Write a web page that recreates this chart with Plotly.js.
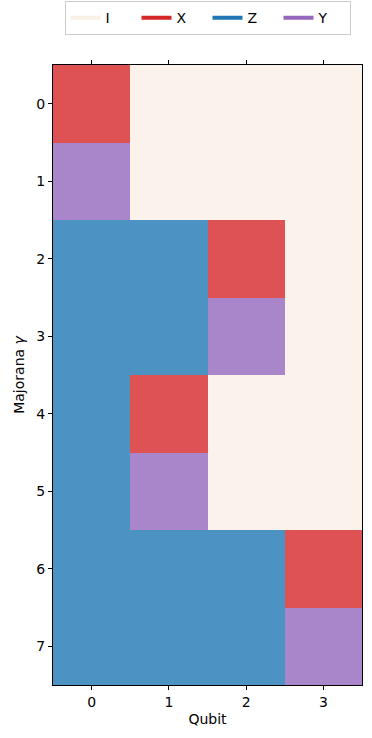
<!DOCTYPE html>
<html>
<head>
<meta charset="utf-8">
<script src="https://cdn.plot.ly/plotly-3.0.1.min.js"></script>
<style>html,body{margin:0;padding:0;background:#fff;}#chart{width:372px;height:738px;}</style>
</head>
<body>
<div id="chart"></div>
<script>
// Data
const qubits = [0, 1, 2, 3];
const majoranas = [0, 1, 2, 3, 4, 5, 6, 7];
const pauliStrings = ["XIII", "YIII", "ZZXI", "ZZYI", "ZXII", "ZYII", "ZZZX", "ZZZY"];
const pauliLabels = ["I", "X", "Z", "Y"];
const pauliColors = ["#faf0e6", "#d62728", "#1f77b4", "#9467bd"];
const cellColors = ["#fbf3eb", "#de5253", "#4c92c3", "#a985ca"];

const z = pauliStrings.map(s => s.split("").map(ch => pauliLabels.indexOf(ch)));
const n = pauliLabels.length;
const colorscale = [];
cellColors.forEach((c, i) => {
  colorscale.push([i / n, c]);
  colorscale.push([(i + 1) / n, c]);
});

const traces = [{
  type: "heatmap",
  x: qubits,
  y: majoranas,
  z: z,
  zmin: -0.5,
  zmax: n - 0.5,
  colorscale: colorscale,
  showscale: false,
  hoverinfo: "skip",
  showlegend: false
}];
pauliLabels.forEach((lab, i) => {
  traces.push({
    type: "scatter",
    mode: "lines",
    x: [null],
    y: [null],
    name: lab,
    line: {color: pauliColors[i], width: 4},
    showlegend: true
  });
});

const font = {family: "DejaVu Sans", size: 14, color: "#000"};
const layout = {
  width: 372,
  height: 738,
  margin: {l: 53, r: 10, t: 65, b: 53, autoexpand: false},
  paper_bgcolor: "#fff",
  plot_bgcolor: "#fff",
  font: font,
  showlegend: true,
  legend: {
    orientation: "h",
    x: 0.5, xanchor: "center",
    y: 1.048, yanchor: "bottom",
    bordercolor: "#cccccc",
    borderwidth: 1,
    font: {family: "DejaVu Sans", size: 14, color: "#000"},
    itemwidth: 30,
    entrywidth: 26,
    entrywidthmode: "pixels"
  },
  xaxis: {
    range: [-0.5, 3.5],
    tickvals: qubits,
    ticks: "outside",
    ticklen: 4,
    tickcolor: "#000",
    showline: true,
    linecolor: "#000",
    linewidth: 1,
    mirror: "ticks",
    showgrid: false,
    zeroline: false,
    title: {text: "Qubit", font: {family: "DejaVu Sans", size: 14}, standoff: 5}
  },
  yaxis: {
    range: [7.5, -0.5],
    tickvals: majoranas,
    ticks: "outside",
    ticklen: 4,
    tickcolor: "#000",
    showline: true,
    linecolor: "#000",
    linewidth: 1,
    mirror: true,
    showgrid: false,
    zeroline: false,
    title: {text: "Majorana <i>γ</i>", font: {family: "DejaVu Sans", size: 14}, standoff: 8}
  }
};

Plotly.newPlot("chart", traces, layout, {displayModeBar: false, staticPlot: true});
</script>
</body>
</html>
